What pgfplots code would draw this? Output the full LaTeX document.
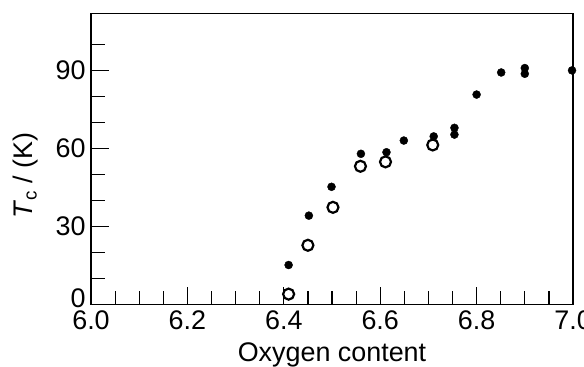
\documentclass[border=0pt]{standalone}
\usepackage{pgfplots}
\pgfplotsset{compat=1.18}
\usepackage{fontspec}
\setmainfont{Liberation Sans}
\begin{document}
\begin{tikzpicture}[x=1bp,y=1bp]
\path[use as bounding box] (-91,-62) rectangle (493,304.5);
\begin{axis}[
  at={(0,0)}, anchor=south west,
  scale only axis, width=482bp, height=291bp,
  xmin=6.0, xmax=7.0, ymin=0, ymax=112,
  xtick={6.0,6.2,6.4,6.6,6.8,7.0},
  xticklabels={6.0,6.2,6.4,6.6,6.8,7.0},
  minor x tick num=3,
  ytick={0,30,60,90},
  yticklabels={\raisebox{12bp}{0},30,60,90},
  minor ytick={10,20,40,50,70,80,100},
  xtick pos=left, ytick pos=left,
  tick align=inside,
  major tick length=18bp, minor tick length=14bp,
  axis line style={line width=1.2bp},
  every tick/.style={black, line width=1.2bp},
  /pgf/number format/assume math mode=true,
  tick label style={font=\fontsize{27}{32}\selectfont},
  label style={font=\fontsize{27}{32}\selectfont},
  xticklabel style={yshift=-3bp},
  yticklabel style={xshift=-2bp},
  xlabel={Oxygen content},
  xlabel style={at={(axis description cs:0.5,0)}, anchor=base, yshift=-57bp},
  ylabel={\textit{T}\textsubscript{c} / (K)},
  ylabel style={at={(axis description cs:-0.135,0.443)}, anchor=center},
  clip=false,
]
\addplot[only marks, mark=o, mark size=5.5bp, mark options={line width=2.2bp, black, fill=white}] coordinates {
(6.41,4) (6.45,22.8) (6.502,37.4) (6.559,53.2) (6.611,54.9) (6.709,61.4)
};
\addplot[only marks, mark=*, mark size=4bp, black] coordinates {
(6.41,15.2) (6.452,34.2) (6.499,45.3) (6.56,58) (6.613,58.6) (6.649,63.1)
(6.711,64.7) (6.754,68) (6.754,65.4) (6.80,80.8) (6.851,89.3) (6.90,91)
(6.90,88.8) (6.998,90.1)
};
\end{axis}
\end{tikzpicture}
\end{document}
